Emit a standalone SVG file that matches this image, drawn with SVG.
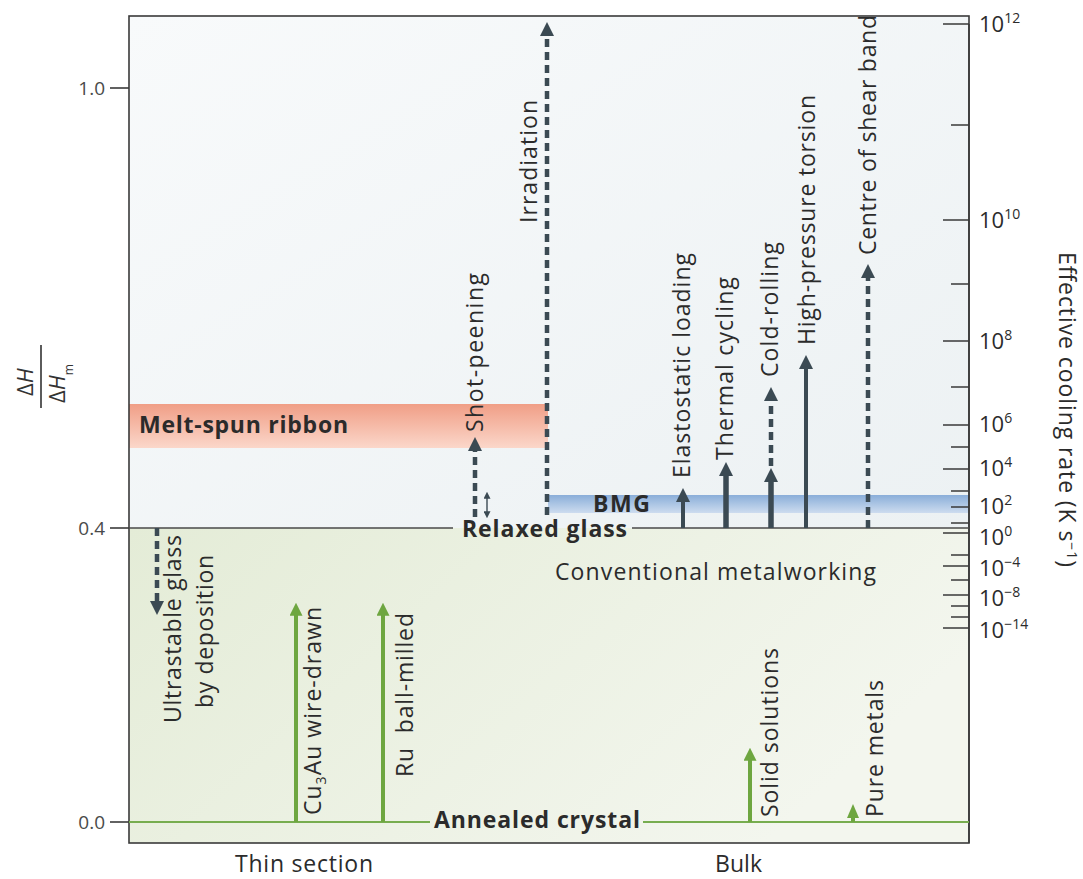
<svg xmlns="http://www.w3.org/2000/svg" width="1083" height="879" viewBox="0 0 1083 879">
<style>
text{font-family:"Open Sans","Noto Sans","Liberation Sans",sans-serif;fill:#2b2b2b}
.lbl{font-size:23px}
.bold{font-size:23px;font-weight:bold}
.tick{font-size:19px;fill:#4a4a4a}
.rt{font-size:22px}
.sup{font-size:14px}
.axis{stroke:#3a3a3a;stroke-width:1.6;fill:none}
.dk{stroke:#3b4a53;fill:none}
.dash{stroke-dasharray:8 5}
.gr{stroke:#6ea640;fill:none;stroke-width:4}
</style>
<defs>
<linearGradient id="bgTop" x1="0" y1="0" x2="1" y2="1">
<stop offset="0" stop-color="#f8fafb"/><stop offset="1" stop-color="#ecf1f3"/>
</linearGradient>
<linearGradient id="bgBot" x1="0" y1="0" x2="1" y2="0.4">
<stop offset="0" stop-color="#e4ecd7"/><stop offset="1" stop-color="#f3f6ee"/>
</linearGradient>
<linearGradient id="melt" x1="0" y1="0" x2="0" y2="1">
<stop offset="0" stop-color="#f09e86"/><stop offset="1" stop-color="#fbd7ca"/>
</linearGradient>
<linearGradient id="bmg" x1="0" y1="0" x2="0" y2="1">
<stop offset="0" stop-color="#8aaed9"/><stop offset="1" stop-color="#cddcef"/>
</linearGradient>
<marker id="hd" viewBox="0 0 14 14" markerWidth="14" markerHeight="14" refX="4" refY="7" orient="auto" markerUnits="userSpaceOnUse">
<path d="M0,0 L14,7 L0,14 z" fill="#3b4a53"/>
</marker>
<marker id="hg" viewBox="0 0 14 14" markerWidth="13" markerHeight="13" refX="4" refY="7" orient="auto" markerUnits="userSpaceOnUse">
<path d="M0,0 L14,7 L0,14 z" fill="#6ea640"/>
</marker>
<marker id="hs" viewBox="0 0 8 8" markerWidth="7" markerHeight="7" refX="2" refY="4" orient="auto-start-reverse" markerUnits="userSpaceOnUse">
<path d="M0,0 L8,4 L0,8 z" fill="#3b4a53"/>
</marker>
</defs>

<g id="background">
<rect x="129" y="16" width="840" height="512" fill="url(#bgTop)"/>
<rect x="129" y="528" width="840" height="315" fill="url(#bgBot)"/>
</g>

<g id="bands">
<g id="melt-spun">
<rect x="129" y="404" width="419" height="44" fill="url(#melt)"/>
<text class="bold" x="139" y="433" textLength="209" lengthAdjust="spacing">Melt-spun ribbon</text>
</g>
<g id="bmg-band">
<rect x="548" y="495" width="421" height="18" fill="url(#bmg)"/>
<text class="bold" x="593" y="512" textLength="57" lengthAdjust="spacing">BMG</text>
</g>
</g>

<g id="axes">
<rect x="129" y="16" width="840" height="827" class="axis"/>
<line x1="110" y1="88" x2="129" y2="88" class="axis"/>
<line x1="110" y1="528" x2="129" y2="528" class="axis"/>
<line x1="110" y1="822" x2="129" y2="822" class="axis"/>
<text class="tick" x="105" y="95" text-anchor="end">1.0</text>
<text class="tick" x="105" y="535" text-anchor="end">0.4</text>
<text class="tick" x="105" y="829" text-anchor="end">0.0</text>
<g id="left-title">
<text transform="translate(33,396) rotate(-90)" style="font-size:22px;fill:#333">Δ<tspan font-style="italic">H</tspan></text>
<line x1="41" y1="345" x2="41" y2="408" stroke="#333" stroke-width="1.6"/>
<text transform="translate(65,403) rotate(-90)" style="font-size:22px;fill:#333">Δ<tspan font-style="italic">H</tspan><tspan dy="8" style="font-size:12px">m</tspan></text>
</g>
<g id="right-axis">
<line x1="969" y1="24" x2="969" y2="843" class="axis"/>
<path class="axis" d="M943,24H969 M943,220H969 M943,341H969 M943,425H969 M943,469H969 M943,533H969 M943,566H969 M943,595H969 M943,628H969"/>
<path class="axis" d="M951,125H969 M951,284H969 M951,387H969 M951,447H969 M951,491H969 M951,507H969 M951,523H969 M951,555H969 M951,580H969 M951,606H969 M951,617H969"/>
<text class="rt" x="979" y="32">10<tspan class="sup" dy="-9">12</tspan></text>
<text class="rt" x="979" y="228">10<tspan class="sup" dy="-9">10</tspan></text>
<text class="rt" x="979" y="349">10<tspan class="sup" dy="-9">8</tspan></text>
<text class="rt" x="979" y="432">10<tspan class="sup" dy="-9">6</tspan></text>
<text class="rt" x="979" y="476">10<tspan class="sup" dy="-9">4</tspan></text>
<text class="rt" x="979" y="514">10<tspan class="sup" dy="-9">2</tspan></text>
<text class="rt" x="979" y="545">10<tspan class="sup" dy="-9">0</tspan></text>
<text class="rt" x="979" y="576">10<tspan class="sup" dy="-9">−4</tspan></text>
<text class="rt" x="979" y="606">10<tspan class="sup" dy="-9">−8</tspan></text>
<text class="rt" x="979" y="638">10<tspan class="sup" dy="-9">−14</tspan></text>
<text transform="translate(1059,252) rotate(90)" class="lbl" textLength="315" lengthAdjust="spacing">Effective cooling rate (K s<tspan class="sup" dy="-8">−1</tspan><tspan dy="8">)</tspan></text>
</g>
</g>

<g id="reference-lines">
<path d="M129,528H453 M632,528H969" stroke="#4a4a4a" stroke-width="1.5"/>
<path d="M129,822H430 M643,822H969" stroke="#77ad4f" stroke-width="2"/>
<text class="bold" x="462" y="537" textLength="165" lengthAdjust="spacing">Relaxed glass</text>
<text class="bold" x="434" y="828" textLength="206" lengthAdjust="spacing">Annealed crystal</text>
<text class="lbl" x="555" y="580" textLength="321" lengthAdjust="spacing">Conventional metalworking</text>
<text class="lbl" x="235" y="872" textLength="138" lengthAdjust="spacing">Thin section</text>
<text class="lbl" x="715" y="872" textLength="47" lengthAdjust="spacing">Bulk</text>
</g>

<g id="connectors">
<line x1="547" y1="515" x2="547" y2="32" class="dk dash" stroke-width="4.5" marker-end="url(#hd)"/>
<line x1="475" y1="517" x2="475" y2="447" class="dk dash" stroke-width="4.5" marker-end="url(#hd)"/>
<line x1="487" y1="497" x2="487" y2="513" class="dk" stroke-width="1.4" marker-start="url(#hs)" marker-end="url(#hs)"/>
<line x1="157" y1="528" x2="157" y2="605" class="dk dash" stroke-width="4.5" marker-end="url(#hd)"/>
<line x1="683" y1="528" x2="683" y2="498" class="dk" stroke-width="4" marker-end="url(#hd)"/>
<line x1="726" y1="528" x2="726" y2="472" class="dk" stroke-width="5.5" marker-end="url(#hd)"/>
<line x1="771" y1="528" x2="771" y2="478" class="dk" stroke-width="5.5" marker-end="url(#hd)"/>
<line x1="771" y1="466" x2="771" y2="397" class="dk dash" stroke-width="4.5" marker-end="url(#hd)"/>
<line x1="806" y1="528" x2="806" y2="365" class="dk" stroke-width="4" marker-end="url(#hd)"/>
<line x1="868" y1="528" x2="868" y2="274" class="dk dash" stroke-width="4.5" marker-end="url(#hd)"/>
<line x1="296" y1="822" x2="296" y2="612" class="gr" marker-end="url(#hg)"/>
<line x1="383" y1="822" x2="383" y2="612" class="gr" marker-end="url(#hg)"/>
<line x1="750" y1="822" x2="750" y2="757" class="gr" marker-end="url(#hg)"/>
<polygon points="853,804 859,818 847,818" fill="#6ea640"/>
<line x1="853" y1="816" x2="853" y2="822" class="gr"/>
</g>

<g id="labels">
<g id="irradiation"><text class="lbl" transform="translate(537,223) rotate(-90)" textLength="123" lengthAdjust="spacing">Irradiation</text></g>
<g id="shot-peening"><text class="lbl" transform="translate(483,432) rotate(-90)" textLength="159" lengthAdjust="spacing">Shot-peening</text></g>
<g id="elastostatic"><text class="lbl" transform="translate(690,478) rotate(-90)" textLength="225" lengthAdjust="spacing">Elastostatic loading</text></g>
<g id="thermal"><text class="lbl" transform="translate(733,460) rotate(-90)" textLength="183" lengthAdjust="spacing">Thermal cycling</text></g>
<g id="cold-rolling"><text class="lbl" transform="translate(778,377) rotate(-90)" textLength="135" lengthAdjust="spacing">Cold-rolling</text></g>
<g id="hpt"><text class="lbl" transform="translate(815,345) rotate(-90)" textLength="250" lengthAdjust="spacing">High-pressure torsion</text></g>
<g id="shear-band"><text class="lbl" transform="translate(876,255) rotate(-90)" textLength="240" lengthAdjust="spacing">Centre of shear band</text></g>
<g id="ultrastable">
<text class="lbl" transform="translate(181,723) rotate(-90)" textLength="188" lengthAdjust="spacing">Ultrastable glass</text>
<text class="lbl" transform="translate(213,708) rotate(-90)" textLength="153" lengthAdjust="spacing">by deposition</text>
</g>
<g id="cu3au"><text class="lbl" transform="translate(321,815) rotate(-90)" textLength="208" lengthAdjust="spacing">Cu<tspan dy="5" style="font-size:14px">3</tspan><tspan dy="-5">Au wire-drawn</tspan></text></g>
<g id="ru"><text class="lbl" transform="translate(413,777) rotate(-90)" style="white-space:pre" textLength="164" lengthAdjust="spacing">Ru  ball-milled</text></g>
<g id="solid-solutions"><text class="lbl" transform="translate(778,817) rotate(-90)" textLength="169" lengthAdjust="spacing">Solid solutions</text></g>
<g id="pure-metals"><text class="lbl" transform="translate(883,817) rotate(-90)" textLength="137" lengthAdjust="spacing">Pure metals</text></g>
</g>
</svg>
